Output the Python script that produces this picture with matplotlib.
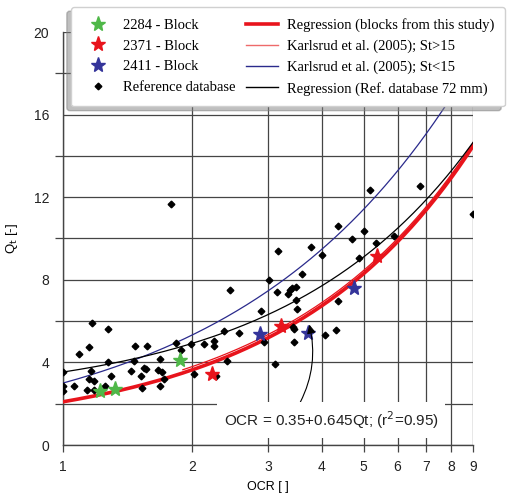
import matplotlib
matplotlib.use("Agg")
import matplotlib.pyplot as plt
import numpy as np
from matplotlib.lines import Line2D

# ---------------- data ----------------
ref_ocr = [1.00, 1.00, 1.00, 1.06, 1.09, 1.15, 1.17, 1.16, 1.15, 1.18, 1.14, 1.18,
           1.25, 1.27, 1.27, 1.29, 1.44, 1.47, 1.46, 1.52, 1.53, 1.545, 1.56, 1.57,
           1.66, 1.68, 1.70, 1.72, 1.68, 1.83, 1.88, 1.98, 2.02, 2.13, 2.24, 2.25,
           2.27, 2.37, 2.41, 2.57, 2.88, 1.78, 2.45, 3.01, 3.14, 3.17, 3.33, 3.37,
           3.40, 3.48, 3.48, 3.51, 3.60, 3.78, 4.01, 4.35, 4.36, 4.71, 4.89, 5.02,
           5.17, 5.35, 5.88, 6.77, 8.98, 3.42, 3.44, 3.45, 2.93, 4.07, 4.31, 3.11]
ref_qt = [3.53, 2.84, 2.62, 2.84, 4.42, 4.74, 5.89, 3.58, 3.21, 3.08, 2.68, 2.65,
          2.84, 5.62, 4.01, 3.33, 3.58, 4.80, 4.06, 3.33, 2.78, 3.74, 3.66, 4.80,
          3.61, 4.16, 3.53, 3.21, 2.84, 4.96, 4.58, 4.90, 3.42, 4.90, 4.79, 5.03,
          3.33, 5.51, 4.06, 5.41, 6.50, 11.68, 7.53, 7.98, 7.42, 9.40, 7.31, 7.53,
          7.58, 7.63, 7.03, 6.57, 8.26, 9.61, 9.20, 10.59, 6.96, 9.97, 9.06, 10.36,
          12.34, 9.80, 10.13, 12.56, 11.20, 5.73, 5.60, 4.98, 4.98, 5.34, 5.57, 3.90]

b2284_ocr = [1.22, 1.32, 1.875]
b2284_qt = [2.62, 2.73, 4.13]
b2371_ocr = [2.22, 3.21, 5.37]
b2371_qt = [3.42, 5.77, 9.14]
b2411_ocr = [2.87, 3.72, 4.75]
b2411_qt = [5.38, 5.42, 7.58]

# regression / correlation coefficients
reg_study = (0.35, 0.645)        # Qt = (OCR + a)/b
karl_hi = (0.70, 1.55)           # Qt = c0 + c1*OCR  (St>15)
karl_lo = (3.0, 0.83)            # Qt = k*OCR^p      (St<15)
reg_ref = (2.14, 1.3925)         # Qt = c0 + c1*OCR

xticks = [1, 2, 3, 4, 5, 6, 7, 8, 9]
yticks = [0, 4, 8, 12, 16, 20]
yminor = [2, 6, 10, 14, 18]

legend_labels = ["2284 - Block", "2371 - Block", "2411 - Block", "Reference database",
                 "Regression (blocks from this study)", "Karlsrud et al. (2005); St>15",
                 "Karlsrud et al. (2005); St<15", "Regression (Ref. database 72 mm)"]
annot_text = "OCR = 0.35+0.645Qt; (r$^2$=0.95)"

# ---------------- figure ----------------
W, H = 510, 494
fig = plt.figure(figsize=(W / 100, H / 100), dpi=100)
ax = fig.add_axes([63 / W, 1 - 445 / H, (473.3 - 63) / W, (445 - 32) / H])

ax.set_xscale("log")
ax.set_xlim(1, 9)
ax.set_ylim(0, 20)

grid_c = "#454545"
ax.set_axisbelow(True)
ax.set_xticks(xticks)
ax.set_xticklabels([str(t) for t in xticks])
ax.xaxis.set_minor_locator(matplotlib.ticker.NullLocator())
ax.set_yticks(yticks)
ax.set_yticks(yminor, minor=True)
ax.grid(True, which="major", axis="both", color=grid_c, lw=0.9)
ax.grid(True, which="minor", axis="y", color=grid_c, lw=0.9)
ax.tick_params(axis="x", which="major", length=5, width=0.9, color=grid_c,
               labelsize=10, pad=6, direction="out")
ax.tick_params(axis="y", which="major", length=0, labelsize=10, pad=10)
ax.tick_params(axis="y", which="minor", length=6, width=0.9, color=grid_c, direction="out")
for lab in ax.get_xticklabels() + ax.get_yticklabels():
    lab.set_fontfamily("Liberation Sans")
    lab.set_color("#222222")
for s in ["top", "right"]:
    ax.spines[s].set_visible(False)
for s in ["left", "bottom"]:
    ax.spines[s].set_color(grid_c)
    ax.spines[s].set_linewidth(1.0)

ax.set_xlabel("OCR [ ]", fontsize=9, family="Liberation Sans", labelpad=5)
ax.set_ylabel("Q$_\\mathrm{t}$ [-]", fontsize=9.5, family="Liberation Sans", labelpad=10)

# curves
x = np.geomspace(1, 9, 200)
a, b = reg_study
ax.plot(x, (x + a) / b, color="#e8141c", lw=2.6, zorder=3)
xk = np.geomspace(1.9, 9, 150)
ax.plot(xk, karl_hi[0] + karl_hi[1] * xk, color="#e8141c", lw=0.9, zorder=3)
ax.plot(x, karl_lo[0] * x ** karl_lo[1], color="#2a2a8c", lw=0.9, zorder=3)
ax.plot(x, reg_ref[0] + reg_ref[1] * x, color="black", lw=0.9, zorder=3)

# points
ax.plot(ref_ocr, ref_qt, "D", color="black", ms=3.4, ls="none", zorder=4)
ax.plot(b2284_ocr, b2284_qt, "*", color="#4fb848", ms=11, mec="#4fb848", ls="none", zorder=5)
ax.plot(b2371_ocr, b2371_qt, "*", color="#e8141c", ms=11, mec="#e8141c", ls="none", zorder=5)
ax.plot(b2411_ocr, b2411_qt, "*", color="#34349a", ms=11, mec="#34349a", ls="none", zorder=5)

# annotation
ax.annotate(annot_text, xy=(3.74, 5.83), xytext=(4.2, 1.22),
            ha="center", va="center", fontsize=11, family="Liberation Sans",
            color="#222222", zorder=6,
            bbox=dict(boxstyle="square,pad=0.45", fc="white", ec="none"),
            arrowprops=dict(arrowstyle="-|>", color="black", lw=0.8,
                            mutation_scale=13, relpos=(0.34, 1.0),
                            connectionstyle="arc3,rad=0.2", shrinkA=0, shrinkB=0))

# legend
handles = [
    Line2D([], [], marker="*", color="#4fb848", ls="none", ms=11),
    Line2D([], [], marker="*", color="#e8141c", ls="none", ms=11),
    Line2D([], [], marker="*", color="#34349a", ls="none", ms=11),
    Line2D([], [], marker="D", color="black", ls="none", ms=3.4),
    Line2D([], [], color="#e8141c", lw=2.6),
    Line2D([], [], color="#ee6a6a", lw=1.0),
    Line2D([], [], color="#2a2a8c", lw=1.0),
    Line2D([], [], color="black", lw=1.0),
]
leg = ax.legend(handles, legend_labels, ncol=2, loc="upper left",
                bbox_to_anchor=(71 / W, 1 - 7 / H), bbox_transform=fig.transFigure,
                borderaxespad=0, prop={"family": "Liberation Serif", "size": 10.5},
                frameon=True, fancybox=True, framealpha=1, edgecolor="#d0d0d0",
                shadow={"ox": -3, "oy": -3, "shade": 0.5, "alpha": 0.5},
                handlelength=2.2, handletextpad=0.6, columnspacing=0.75,
                labelspacing=0.52, borderpad=0.75)
leg.set_zorder(20)

fig.savefig("out.png", dpi=100)
